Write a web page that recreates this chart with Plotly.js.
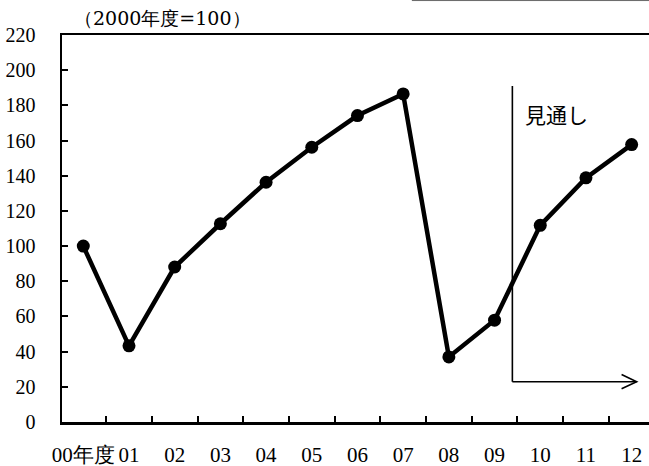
<!DOCTYPE html>
<html>
<head>
<meta charset="utf-8">
<script src="https://cdn.plot.ly/plotly-3.0.1.min.js"></script>
<style>html,body{margin:0;padding:0;background:#fff;}</style>
</head>
<body>
<div id="chart" style="width:649px;height:466px;"></div>
<script>
const categories = ["00年度","01","02","03","04","05","06","07","08","09","10","11","12"];
const values = [100, 43.3, 88.1, 112.7, 136.3, 156.2, 174.2, 186.5, 37.0, 57.9, 111.8, 138.8, 157.7];
const yTicks = [0,20,40,60,80,100,120,140,160,180,200,220];
const unitLabel = "（2000年度=100）";
const outlookLabel = "見通し";

const FONT_X = "Liberation Serif";
const FONT_Y = "Times New Roman";
const FONT_T = "DejaVu Serif";

const trace = {
  type: "scatter",
  mode: "lines+markers",
  x: categories,
  y: values,
  line: {color: "#000", width: 4.5},
  marker: {color: "#000", size: 13},
  cliponaxis: false,
  hoverinfo: "skip"
};

const layout = {
  width: 649, height: 466,
  margin: {l: 62, r: 0, t: 35, b: 44},
  paper_bgcolor: "#fff", plot_bgcolor: "#fff",
  showlegend: false,
  xaxis: {
    type: "category",
    range: [-0.466, 12.38],
    tickson: "boundaries",
    tickangle: 0,
    ticks: "inside", ticklen: 6, tickwidth: 2, tickcolor: "#000",
    showline: true, linecolor: "#000", linewidth: 2.5,
    mirror: true,
    showgrid: false, zeroline: false,
    tickfont: {family: FONT_X, size: 21, color: "#000"},
    ticklabelstandoff: 12
  },
  yaxis: {
    range: [0, 220],
    tickvals: yTicks,
    ticktext: yTicks.map(String),
    ticks: "inside", ticklen: 6, tickwidth: 2, tickcolor: "#000",
    showline: true, linecolor: "#000", linewidth: 2.5,
    showgrid: false, zeroline: false,
    tickfont: {family: FONT_Y, size: 20, color: "#000"},
    ticklabelstandoff: 20
  },
  shapes: [
    {type: "line", xref: "x", yref: "y", x0: 9.39, x1: 9.39, y0: 191, y1: 22.9,
     line: {color: "#000", width: 1.6}},
    {type: "line", xref: "x", yref: "y", x0: 9.39, x1: 12.11, y0: 22.9, y1: 22.9,
     line: {color: "#000", width: 1.6}},
    {type: "path", xref: "x", yref: "y",
     path: "M 11.78 27 L 12.11 22.9 L 11.78 18.9",
     line: {color: "#000", width: 1.6}},
    {type: "line", xref: "paper", yref: "paper", x0: 0.596, x1: 1, y0: 1.089, y1: 1.089,
     line: {color: "#666", width: 1}}
  ],
  annotations: [
    {xref: "paper", yref: "paper", x: 0.172, y: 1.044, text: unitLabel, showarrow: false,
     font: {family: FONT_T, size: 19, color: "#000"}, xanchor: "center", yanchor: "middle"},
    {xref: "x", yref: "y", x: 10.36, y: 175, text: outlookLabel, showarrow: false,
     font: {family: "Noto Sans CJK JP", size: 21, color: "#000"},
     xanchor: "center", yanchor: "middle"}
  ]
};

Plotly.newPlot("chart", [trace], layout, {displayModeBar: false, staticPlot: true});
</script>
</body>
</html>
